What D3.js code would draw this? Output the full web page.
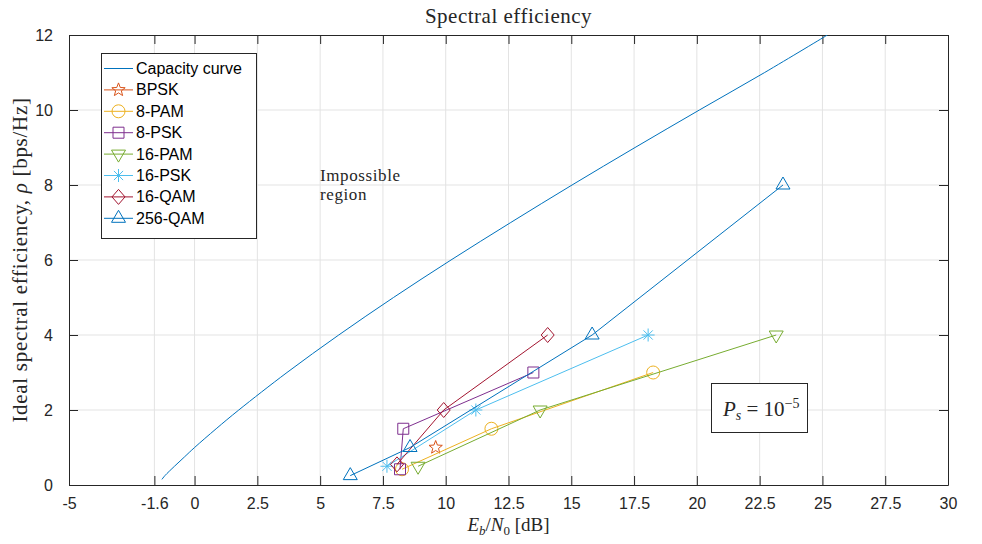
<!DOCTYPE html>
<html>
<head>
<meta charset="utf-8">
<script src="https://cdn.jsdelivr.net/npm/d3@7"></script>
<style>
  body { margin: 0; background: #fff; }
  svg { display: block; }
  .tick text { font-family: "Liberation Sans", Arial, sans-serif; font-size: 16px; fill: #262626; }
  .serif { font-family: "Liberation Serif", "Times New Roman", serif; fill: #262626; }
</style>
</head>
<body>
<div id="chart"></div>
<script>
// capacity curve
var capRho  = [0.15, 0.25, 0.5, 0.75, 1, 1.5, 2, 3, 4, 5, 6, 7, 8, 9, 10, 11, 12];
var capEbN0 = [-1.3, -1.18, -0.8, -0.4, 0, 0.86, 1.76, 3.68, 5.74, 7.92, 10.21, 12.59, 15.03, 17.54, 20.1, 22.7, 25.2];

var seriesNames = ["BPSK", "8-PAM", "8-PSK", "16-PAM", "16-PSK", "16-QAM", "256-QAM"];
var seriesColors = ["#D95319", "#EDB120", "#7E2F8E", "#77AC30", "#4DBEEE", "#A2142F", "#0072BD"];
var seriesMarkers = ["star", "circle", "square", "triDown", "asterisk", "diamond", "triUp"];

var bpskX = [9.6];             var bpskY = [1];
var pam8X = [8.26, 11.82, 18.26];  var pam8Y = [0.42, 1.5, 3];
var psk8X = [8.18, 8.31, 13.49];   var psk8Y = [0.42, 1.5, 3];
var pam16X = [8.9, 13.76, 23.16];  var pam16Y = [0.5, 2, 4];
var psk16X = [7.66, 11.2, 18.06];  var psk16Y = [0.5, 2, 4];
var qam16X = [8.06, 9.92, 14.06];  var qam16Y = [0.55, 2, 4];
var qam256X = [6.2, 8.58, 15.83, 23.43]; var qam256Y = [0.25, 1, 4, 8];

var xTicks = [-5, -1.6, 0, 2.5, 5, 7.5, 10, 12.5, 15, 17.5, 20, 22.5, 25, 27.5, 30];
var yTicks = [0, 2, 4, 6, 8, 10, 12];

var seriesX = [bpskX, pam8X, psk8X, pam16X, psk16X, qam16X, qam256X];
var seriesY = [bpskY, pam8Y, psk8Y, pam16Y, psk16Y, qam16Y, qam256Y];

var w = 982, h = 544;
var plotLeft = 69, plotRight = 948, plotTop = 35, plotBottom = 485;
var axisColor = "#262626";

var svg = d3.select("#chart").append("svg")
  .attr("width", w)
  .attr("height", h);

var x = d3.scaleLinear().domain([-5, 30]).range([plotLeft, plotRight]);
var y = d3.scaleLinear().domain([0, 12]).range([plotBottom, plotTop]);

svg.append("defs").append("clipPath")
  .attr("id", "plotClip")
  .append("rect")
  .attr("x", plotLeft).attr("y", plotTop)
  .attr("width", plotRight - plotLeft).attr("height", plotBottom - plotTop);

// grid
svg.append("g").selectAll("line.gx")
  .data(xTicks.slice(1, -1))
  .enter().append("line")
  .attr("x1", function(d) { return x(d); })
  .attr("x2", function(d) { return x(d); })
  .attr("y1", plotTop).attr("y2", plotBottom)
  .attr("stroke", "#e3e3e3");

svg.append("g").selectAll("line.gy")
  .data(yTicks.slice(1, -1))
  .enter().append("line")
  .attr("y1", function(d) { return y(d); })
  .attr("y2", function(d) { return y(d); })
  .attr("x1", plotLeft).attr("x2", plotRight)
  .attr("stroke", "#e3e3e3");

// axes (inner ticks on all four sides)
var xAxis = svg.append("g")
  .attr("transform", "translate(0," + plotBottom + ")")
  .call(d3.axisBottom(x).tickValues(xTicks).tickSizeInner(-9).tickSizeOuter(0).tickPadding(13)
    .tickFormat(function(d) { return String(d); }));
var xAxisTop = svg.append("g")
  .attr("transform", "translate(0," + plotTop + ")")
  .call(d3.axisTop(x).tickValues(xTicks).tickSizeInner(-9).tickSizeOuter(0).tickFormat(""));
var yAxis = svg.append("g")
  .attr("transform", "translate(" + plotLeft + ",0)")
  .call(d3.axisLeft(y).tickValues(yTicks).tickSizeInner(-9).tickSizeOuter(0).tickPadding(16));
var yAxisRight = svg.append("g")
  .attr("transform", "translate(" + plotRight + ",0)")
  .call(d3.axisRight(y).tickValues(yTicks).tickSizeInner(-9).tickSizeOuter(0).tickFormat(""));

[xAxis, xAxisTop, yAxis, yAxisRight].forEach(function(a) {
  a.selectAll(".domain").attr("stroke", axisColor);
  a.selectAll(".tick line").attr("stroke", axisColor);
});

// marker shapes
function markerPath(type) {
  if (type == "circle") {
    return "M6.5,0A6.5,6.5 0 1 1 -6.5,0A6.5,6.5 0 1 1 6.5,0Z";
  } else if (type == "square") {
    return "M-5.5,-5.5H5.5V5.5H-5.5Z";
  } else if (type == "diamond") {
    return "M0,-7.5L6.5,0L0,7.5L-6.5,0Z";
  } else if (type == "triUp") {
    return "M0,-8L7,4L-7,4Z";
  } else if (type == "triDown") {
    return "M0,8L7,-4L-7,-4Z";
  } else if (type == "asterisk") {
    return "M-6.5,0H6.5M0,-6.5V6.5M-4.6,-4.6L4.6,4.6M-4.6,4.6L4.6,-4.6";
  } else if (type == "star") {
    var p = d3.path();
    for (var i = 0; i < 10; i++) {
      var r = i % 2 == 0 ? 7 : 3;
      var a = -Math.PI / 2 + i * Math.PI / 5;
      if (i == 0) p.moveTo(r * Math.cos(a), r * Math.sin(a));
      else p.lineTo(r * Math.cos(a), r * Math.sin(a));
    }
    p.closePath();
    return p.toString();
  }
}

var plot = svg.append("g").attr("clip-path", "url(#plotClip)");

var line = d3.line()
  .x(function(d) { return x(d[0]); })
  .y(function(d) { return y(d[1]); });

// capacity curve
plot.append("path")
  .datum(d3.zip(capEbN0, capRho))
  .attr("fill", "none")
  .attr("stroke", "#0072BD")
  .attr("stroke-width", 1)
  .attr("d", line.curve(d3.curveCatmullRom));

line.curve(d3.curveLinear);

var series = svg.append("g").selectAll("g.series")
  .data(seriesNames)
  .enter().append("g")
  .attr("class", "series");

series.append("path")
  .attr("fill", "none")
  .attr("stroke", function(d, i) { return seriesColors[i]; })
  .attr("stroke-width", 1)
  .attr("d", function(d, i) { return line(d3.zip(seriesX[i], seriesY[i])); });

series.each(function(d, i) {
  d3.select(this).selectAll("path.mk")
    .data(d3.zip(seriesX[i], seriesY[i]))
    .enter().append("path")
    .attr("class", "mk")
    .attr("transform", function(p) { return "translate(" + x(p[0]) + "," + y(p[1]) + ")"; })
    .attr("d", markerPath(seriesMarkers[i]))
    .attr("fill", "none")
    .attr("stroke", seriesColors[i])
    .attr("stroke-width", 1);
});

// legend
var legend = svg.append("g");
legend.append("rect")
  .attr("x", 101.5).attr("y", 53.5)
  .attr("width", 155).attr("height", 185)
  .attr("fill", "#fff")
  .attr("stroke", axisColor);

var legendNames = ["Capacity curve"].concat(seriesNames);
var legendColors = ["#0072BD"].concat(seriesColors);
var legendMarkers = [null].concat(seriesMarkers);

var rows = legend.selectAll("g.row")
  .data(legendNames)
  .enter().append("g")
  .attr("class", "row")
  .attr("transform", function(d, i) { return "translate(0," + (68.5 + i * 21.4) + ")"; });

rows.append("line")
  .attr("x1", 104).attr("x2", 133)
  .attr("stroke", function(d, i) { return legendColors[i]; });

rows.filter(function(d, i) { return legendMarkers[i] != null; })
  .append("path")
  .attr("transform", "translate(118.5,0)")
  .attr("d", function(d) { return markerPath(legendMarkers[legendNames.indexOf(d)]); })
  .attr("fill", "none")
  .attr("stroke", function(d) { return legendColors[legendNames.indexOf(d)]; });

rows.append("text")
  .attr("x", 136)
  .attr("y", 5.5)
  .style("font-family", "'Liberation Sans', Arial, sans-serif")
  .style("font-size", "16px")
  .attr("fill", "#000")
  .text(function(d) { return d; });

// title and axis labels
svg.append("text")
  .attr("class", "serif")
  .attr("x", (plotLeft + plotRight) / 2)
  .attr("y", 23)
  .attr("text-anchor", "middle")
  .style("font-size", "21px")
  .style("letter-spacing", "0.5px")
  .attr("fill", "#000")
  .text("Spectral efficiency");

var xl = svg.append("text")
  .attr("class", "serif")
  .attr("x", (plotLeft + plotRight) / 2)
  .attr("y", 531)
  .attr("text-anchor", "middle")
  .style("font-size", "19px");
xl.append("tspan").style("font-style", "italic").text("E");
xl.append("tspan").attr("dy", 4).style("font-size", "13px").style("font-style", "italic").text("b");
xl.append("tspan").attr("dy", -4).text("/");
xl.append("tspan").style("font-style", "italic").text("N");
xl.append("tspan").attr("dy", 4).style("font-size", "13px").text("0");
xl.append("tspan").attr("dy", -4).text(" [dB]");

var yl = svg.append("text")
  .attr("class", "serif")
  .attr("transform", "translate(27," + ((plotTop + plotBottom) / 2) + ") rotate(-90)")
  .attr("text-anchor", "middle")
  .style("font-size", "21px")
  .style("letter-spacing", "0.7px");
yl.append("tspan").text("Ideal spectral efficiency, ");
yl.append("tspan").style("font-style", "italic").text("ρ");
yl.append("tspan").text(" [bps/Hz]");

// annotations
var imp = svg.append("text")
  .attr("class", "serif")
  .style("font-size", "17px")
  .style("letter-spacing", "0.6px");
imp.append("tspan").attr("x", 320).attr("y", 181).text("Impossible");
imp.append("tspan").attr("x", 320).attr("y", 200).text("region");

svg.append("rect")
  .attr("x", 711.5).attr("y", 383.5)
  .attr("width", 96).attr("height", 49)
  .attr("fill", "#fff")
  .attr("stroke", axisColor);

var ps = svg.append("text")
  .attr("class", "serif")
  .attr("x", 723)
  .attr("y", 416)
  .style("font-size", "21px");
ps.append("tspan").style("font-style", "italic").text("P");
ps.append("tspan").attr("dy", 4).style("font-size", "14px").style("font-style", "italic").text("s");
ps.append("tspan").attr("dy", -4).text(" = 10");
ps.append("tspan").attr("dy", -8).style("font-size", "14px").text("−5");
</script>
</body>
</html>
